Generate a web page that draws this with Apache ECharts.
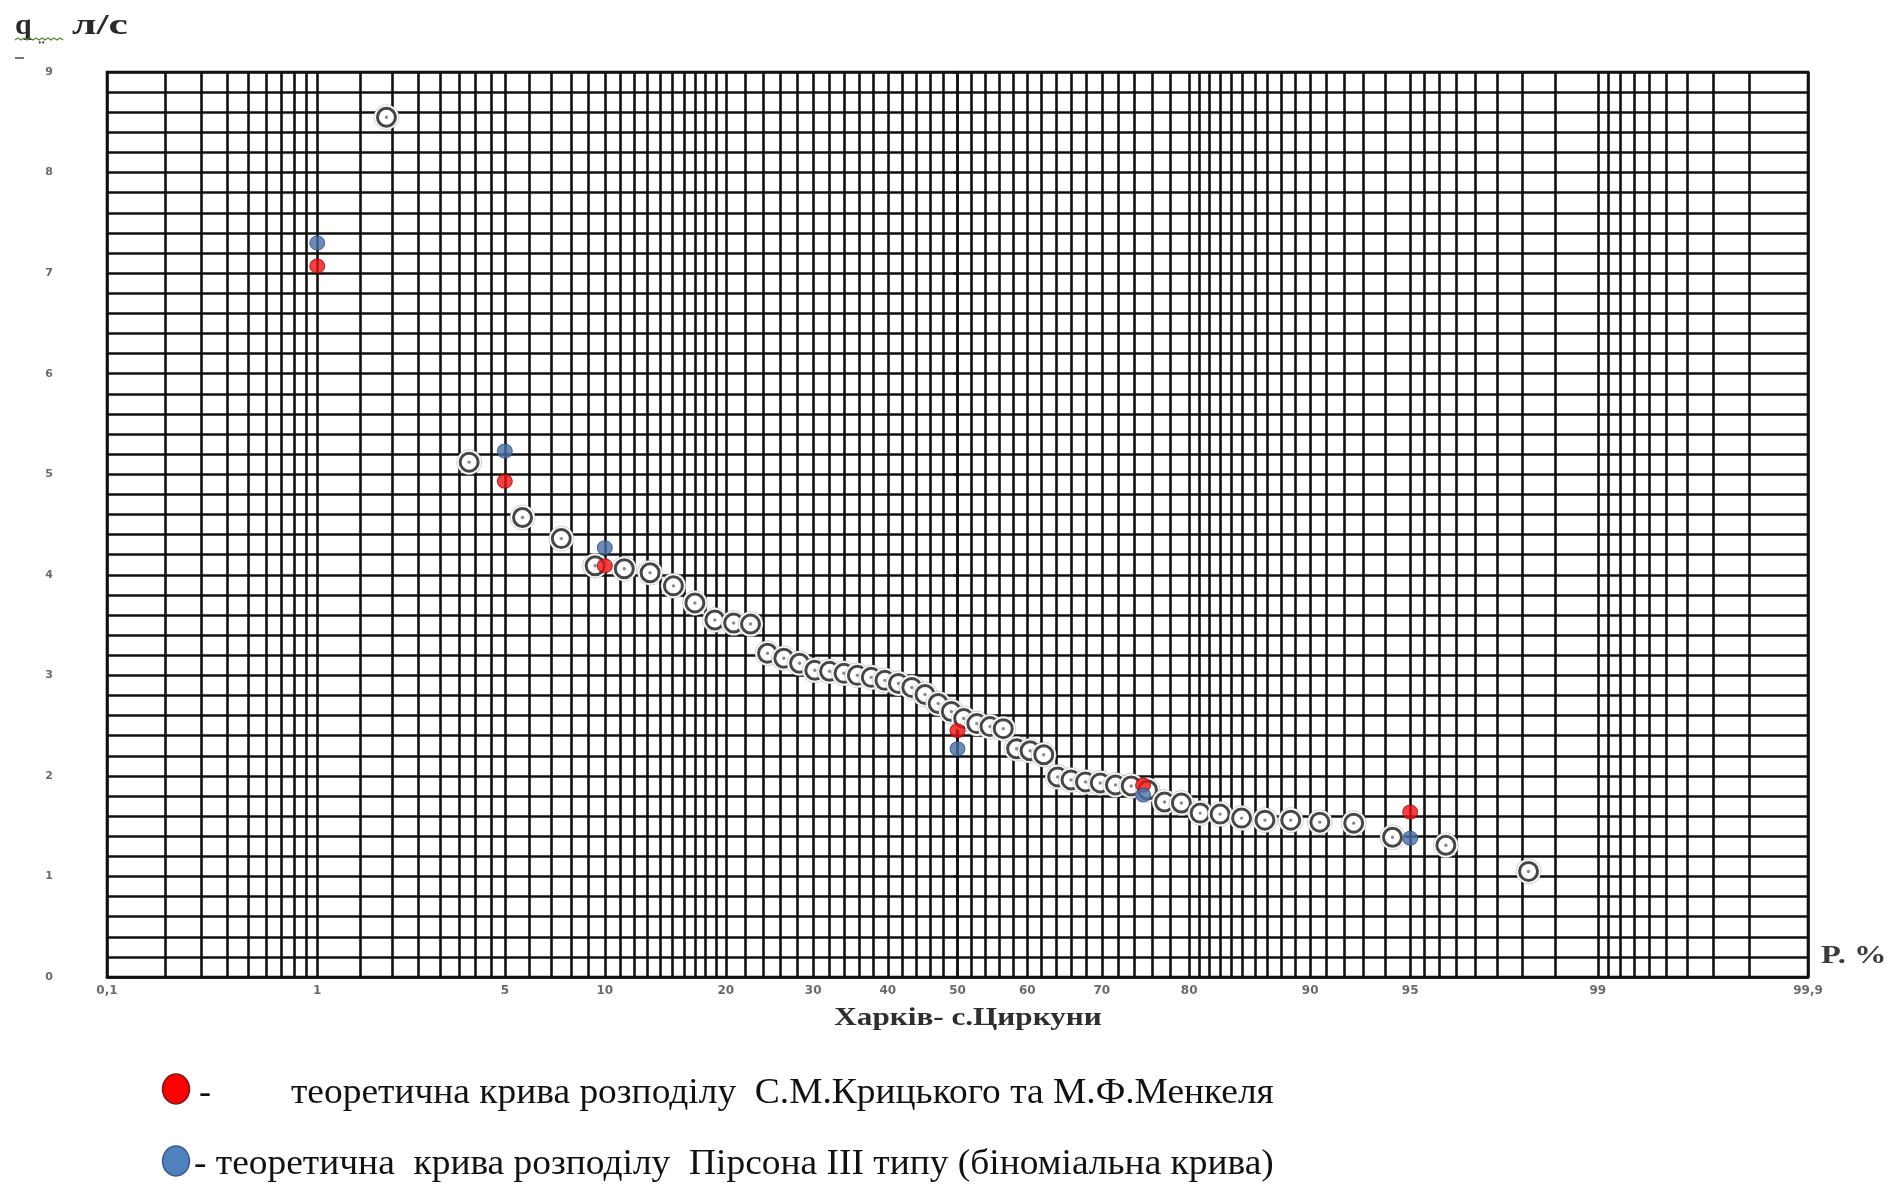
<!DOCTYPE html>
<html>
<head>
<meta charset="utf-8">
<title>Харків - с.Циркуни</title>
<script src="https://cdn.jsdelivr.net/npm/echarts@6/dist/echarts.min.js"></script>
<style>
  html, body { margin: 0; padding: 0; background: #ffffff; }
  #chart { width: 1903px; height: 1184px; }
</style>
</head>
<body>
<div id="chart"></div>
<script>
// Probability of exceedance (%) of the observed values, ranked
const observedP = [1.9, 3.8, 5.7, 7.5, 9.4, 11.3, 13.2, 15.1, 17.0, 18.9, 20.8, 22.6, 24.5,
  26.4, 28.3, 30.2, 32.1, 34.0, 35.8, 37.7, 39.6, 41.5, 43.4, 45.3, 47.2, 49.1, 50.9, 52.8,
  54.7, 56.6, 58.5, 60.4, 62.3, 64.2, 66.0, 67.9, 69.8, 71.7, 73.6, 75.5, 77.4, 79.2, 81.1,
  83.0, 84.9, 86.8, 88.7, 90.6, 92.5, 94.3, 96.2, 98.1];
// Observed discharge q, l/s
const observedQ = [8.55, 5.12, 4.57, 4.36, 4.09, 4.06, 4.02, 3.89, 3.72, 3.55, 3.52, 3.51, 3.22,
  3.17, 3.12, 3.05, 3.04, 3.02, 3.00, 2.98, 2.95, 2.92, 2.88, 2.81, 2.72, 2.64, 2.57, 2.52,
  2.49, 2.47, 2.27, 2.25, 2.21, 1.99, 1.96, 1.94, 1.93, 1.91, 1.90, 1.86, 1.74, 1.73, 1.63,
  1.62, 1.58, 1.56, 1.56, 1.54, 1.53, 1.39, 1.31, 1.05];

// Theoretical curves at design probabilities
const theoryP = [1, 5, 10, 50, 75, 95];
const kritskyMenkelQ = [7.07, 4.93, 4.09, 2.45, 1.91, 1.64];
const pearson3Q = [7.30, 5.23, 4.27, 2.27, 1.81, 1.38];

// Probability paper: vertical rulings and labelled ticks (%)
const gridP = [0.1, 0.2, 0.3, 0.4, 0.5, 0.6, 0.7, 0.8, 0.9, 1, 1.5, 2, 2.5, 3, 3.5, 4, 4.5, 5,
  6, 7, 8, 9, 10, 11, 12, 13, 14, 15, 16, 17, 18, 19, 20, 22, 24, 26, 28, 30, 32, 34, 36, 38,
  40, 42, 44, 46, 48, 50, 52, 54, 56, 58, 60, 62, 64, 66, 68, 70, 72, 74, 76, 78, 80, 81, 82,
  83, 84, 85, 86, 87, 88, 89, 90, 91, 92, 93, 94, 95, 95.5, 96, 96.5, 97, 97.5, 98, 98.5, 99,
  99.1, 99.2, 99.3, 99.4, 99.5, 99.6, 99.7, 99.8, 99.9];
const tickP = [0.1, 1, 5, 10, 20, 30, 40, 50, 60, 70, 80, 90, 95, 99, 99.9];
const tickText = ['0,1', '1', '5', '10', '20', '30', '40', '50', '60', '70', '80', '90', '95', '99', '99,9'];

// Inverse of the standard normal CDF (Acklam), used to place % on the probability axis
function probit(p) {
  const a = [-3.969683028665376e+01, 2.209460984245205e+02, -2.759285104469687e+02, 1.383577518672690e+02, -3.066479806614716e+01, 2.506628277459239e+00];
  const b = [-5.447609879822406e+01, 1.615858368580409e+02, -1.556989798598866e+02, 6.680131188771972e+01, -1.328068155288572e+01];
  const c = [-7.784894002430293e-03, -3.223964580411365e-01, -2.400758277161838e+00, -2.549732539343734e+00, 4.374664141464968e+00, 2.938163982698783e+00];
  const d = [7.784695709041462e-03, 3.224671290700398e-01, 2.445134137142996e+00, 3.754408661907416e+00];
  const pl = 0.02425, ph = 1 - pl;
  let q, r;
  if (p < pl) {
    q = Math.sqrt(-2 * Math.log(p));
    return (((((c[0] * q + c[1]) * q + c[2]) * q + c[3]) * q + c[4]) * q + c[5]) / ((((d[0] * q + d[1]) * q + d[2]) * q + d[3]) * q + 1);
  }
  if (p <= ph) {
    q = p - 0.5; r = q * q;
    return (((((a[0] * r + a[1]) * r + a[2]) * r + a[3]) * r + a[4]) * r + a[5]) * q / (((((b[0] * r + b[1]) * r + b[2]) * r + b[3]) * r + b[4]) * r + 1);
  }
  q = Math.sqrt(-2 * Math.log(1 - p));
  return -(((((c[0] * q + c[1]) * q + c[2]) * q + c[3]) * q + c[4]) * q + c[5]) / ((((d[0] * q + d[1]) * q + d[2]) * q + d[3]) * q + 1);
}
const toAxis = pct => probit(pct / 100);

const gridZ = gridP.map(toAxis);
const tickZ = tickP.map(toAxis);
const zMin = toAxis(0.1), zMax = toAxis(99.9);

function tickLabel(v) {
  let best = 0, bestD = Infinity;
  tickZ.forEach((z, i) => { const dd = Math.abs(z - v); if (dd < bestD) { bestD = dd; best = i; } });
  return tickText[best];
}

const INK = '#111111';
const RULE_W = 2.6;
const LEGEND_FONT = '36px "Liberation Serif"';

const chart = echarts.init(document.getElementById('chart'), null, { renderer: 'canvas' });

const option = {
  backgroundColor: '#ffffff',
  animation: false,
  grid: {
    left: 107, right: 95, top: 72, bottom: 207,
    show: true, borderColor: INK, borderWidth: RULE_W, backgroundColor: '#ffffff'
  },
  xAxis: {
    type: 'value',
    min: zMin, max: zMax,
    axisLine: { show: true, lineStyle: { color: INK, width: RULE_W } },
    axisTick: { show: false, customValues: gridZ },
    axisLabel: {
      customValues: tickZ,
      formatter: v => tickLabel(v),
      margin: 8,
      color: '#6a6a6a', fontSize: 12, fontWeight: 'bold', fontFamily: 'DejaVu Sans'
    },
    splitLine: { show: true, lineStyle: { color: INK, width: RULE_W } }
  },
  yAxis: {
    type: 'value',
    min: 0, max: 9, interval: 1,
    axisLine: { show: true, lineStyle: { color: INK, width: RULE_W } },
    axisTick: { show: true, length: 4, lineStyle: { color: INK, width: RULE_W } },
    minorTick: { show: false, splitNumber: 5 },
    minorSplitLine: { show: true, lineStyle: { color: INK, width: RULE_W } },
    splitLine: { show: true, lineStyle: { color: INK, width: RULE_W } },
    axisLabel: {
      margin: 54,
      padding: [5, 0, 0, 0],
      color: '#6a6a6a', fontSize: 11, fontWeight: 'bold', fontFamily: 'DejaVu Sans'
    }
  },
  series: [
    {
      name: 'observed',
      type: 'custom',
      z: 3,
      data: observedP.map((p, i) => [toAxis(p), observedQ[i]]),
      renderItem: (params, api) => {
        const pt = api.coord([api.value(0), api.value(1)]);
        const cx = pt[0], cy = pt[1];
        return {
          type: 'group',
          children: [
            { type: 'circle', shape: { cx, cy, r: 12.5 }, style: { fill: '#ffffff', stroke: 'rgba(120,120,120,0.35)', lineWidth: 1 } },
            { type: 'circle', shape: { cx, cy, r: 9 }, style: { fill: '#ffffff', stroke: '#474747', lineWidth: 3 } },
            { type: 'circle', shape: { cx, cy, r: 1.7 }, style: { fill: '#8a8a8a' } }
          ]
        };
      }
    },
    {
      name: 'Крицький–Менкель',
      type: 'scatter',
      z: 5,
      symbol: 'circle',
      symbolSize: [15, 14],
      itemStyle: { color: '#ee1111', borderColor: '#b00000', borderWidth: 1 },
      data: theoryP.map((p, i) => [toAxis(p), kritskyMenkelQ[i]])
    },
    {
      name: 'Пірсон III',
      type: 'scatter',
      z: 5,
      symbol: 'circle',
      symbolSize: [15, 14],
      itemStyle: { color: '#4a6fa8', borderColor: '#33527f', borderWidth: 1 },
      data: theoryP.map((p, i) => [toAxis(p), pearson3Q[i]])
    }
  ],
  graphic: [
    // y-axis title: q, л/с
    { type: 'text', x: 15, y: 41, style: { text: 'q', font: 'bold 30px "Liberation Serif"', fill: '#2a2a2a', textVerticalAlign: 'bottom' } },
    { type: 'text', x: 38, y: 46, style: { text: '‥', font: 'bold 13px "Liberation Serif"', fill: '#3a3a3a', textVerticalAlign: 'bottom' } },
    { type: 'polyline', shape: { points: [[15, 40], [18, 38], [21, 40], [24, 38], [27, 40], [30, 38], [33, 40], [36, 38], [39, 40], [42, 38], [45, 40], [48, 38], [51, 40], [54, 38], [57, 40], [60, 38], [63, 40]] }, style: { stroke: '#4f8a3a', lineWidth: 1.2, fill: null } },
    { type: 'text', x: 72, y: 41, scaleX: 1.45, style: { text: 'л/с', font: 'bold 30px "Liberation Serif"', fill: '#2a2a2a', textVerticalAlign: 'bottom' } },
    { type: 'line', shape: { x1: 15, y1: 58, x2: 24, y2: 58 }, style: { stroke: '#777', lineWidth: 2 } },
    // x-axis title and station name
    { type: 'text', x: 1821, y: 957, scaleX: 1.3, style: { text: 'P. %', font: 'bold 25px "Liberation Serif"', fill: '#3c3c3c', textVerticalAlign: 'middle' } },
    { type: 'text', x: 968, y: 1018, scaleX: 1.2, style: { text: 'Харків- с.Циркуни', font: 'bold 26px "Liberation Serif"', fill: '#2e2e2e', textAlign: 'center', textVerticalAlign: 'middle' } },
    // legend
    { type: 'ellipse', shape: { cx: 176, cy: 1089, rx: 13.5, ry: 15 }, style: { fill: '#ff0000', stroke: '#7a1a1a', lineWidth: 1.5 } },
    { type: 'text', x: 199, y: 1094, style: { text: '-', font: LEGEND_FONT, fill: '#111', textVerticalAlign: 'middle' } },
    { type: 'text', x: 291, y: 1094, scaleX: 1.04, style: { text: 'теоретична крива розподілу  С.М.Крицького та М.Ф.Менкеля', font: LEGEND_FONT, fill: '#111', textVerticalAlign: 'middle' } },
    { type: 'ellipse', shape: { cx: 176, cy: 1161, rx: 13.5, ry: 15 }, style: { fill: '#4f81bd', stroke: '#385d8a', lineWidth: 1.5 } },
    { type: 'text', x: 194, y: 1165, scaleX: 1.04, style: { text: '- теоретична  крива розподілу  Пірсона ІІІ типу (біноміальна крива)', font: LEGEND_FONT, fill: '#111', textVerticalAlign: 'middle' } }
  ]
};

chart.setOption(option);
</script>
</body>
</html>
